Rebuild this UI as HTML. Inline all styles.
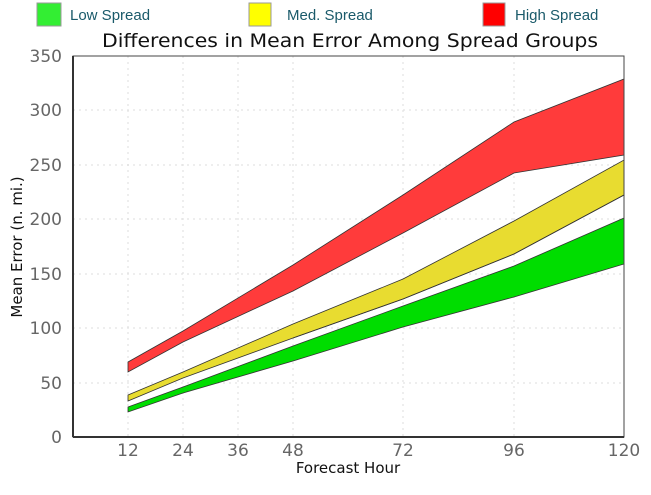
<!DOCTYPE html>
<html><head><meta charset="utf-8"><style>
body{margin:0;background:#fff;width:651px;height:490px;overflow:hidden}
</style></head><body>
<svg width="651" height="490" xmlns="http://www.w3.org/2000/svg" font-family="'DejaVu Sans','Liberation Sans',sans-serif">
<rect x="37" y="3" width="24" height="23" fill="#33ee33" stroke="#999"/>
<text x="70" y="20" font-size="15" fill="#1a5a6a" font-family="'Liberation Sans',sans-serif">Low Spread</text>
<rect x="249" y="3" width="22" height="23" fill="#ffff00" stroke="#999"/>
<text x="287" y="20" font-size="15" fill="#1a5a6a" font-family="'Liberation Sans',sans-serif">Med. Spread</text>
<rect x="483" y="3" width="22" height="23" fill="#ff0000" stroke="#999"/>
<text x="515" y="20" font-size="15" fill="#1a5a6a" font-family="'Liberation Sans',sans-serif">High Spread</text>
<text x="102" y="47" font-size="19" textLength="496" lengthAdjust="spacingAndGlyphs" fill="#111">Differences in Mean Error Among Spread Groups</text>
<g stroke="#ddd" stroke-dasharray="2,4" stroke-width="1">
<line x1="73" x2="624" y1="383" y2="383"/><line x1="73" x2="624" y1="328" y2="328"/><line x1="73" x2="624" y1="274" y2="274"/><line x1="73" x2="624" y1="219" y2="219"/><line x1="73" x2="624" y1="165" y2="165"/><line x1="73" x2="624" y1="110" y2="110"/>
<line y1="56" y2="437" x1="128" x2="128"/><line y1="56" y2="437" x1="183" x2="183"/><line y1="56" y2="437" x1="238" x2="238"/><line y1="56" y2="437" x1="293" x2="293"/><line y1="56" y2="437" x1="403" x2="403"/><line y1="56" y2="437" x1="514" x2="514"/>
</g>
<g stroke="#333" stroke-width="0.8">
<polygon fill="#ff3b3b" points="128,362 183,331 293,265 403,195 514,122 624,79 624,155 514,173 403,233 293,291 183,342 128,372"/>
<polygon fill="#e8dc30" points="128,395 183,372 293,324 403,279 514,221 624,160 624,195 514,254 403,299 293,338 183,378 128,401"/>
<polygon fill="#00dd00" points="128,407 183,387 293,346 403,306 514,266 624,218 624,264 514,297 403,327 293,361 183,393 128,412"/>
<polyline fill="none" points="293,338 403,299 514,254 624,195"/>
</g>
<rect x="73" y="56" width="551" height="381" fill="none" stroke="#444" stroke-width="1"/>
<line x1="73" y1="56" x2="73" y2="437" stroke="#333" stroke-width="2"/>
<line x1="73" y1="437" x2="624" y2="437" stroke="#333" stroke-width="2"/>
<g font-size="17" fill="#666" text-anchor="end">
<text x="62" y="443">0</text><text x="62" y="389">50</text><text x="62" y="334">100</text><text x="62" y="280">150</text><text x="62" y="225">200</text><text x="62" y="171">250</text><text x="62" y="116">300</text><text x="62" y="62">350</text>
</g>
<g font-size="17" fill="#666" text-anchor="middle">
<text x="128" y="456">12</text><text x="183" y="456">24</text><text x="238" y="456">36</text><text x="293" y="456">48</text><text x="403" y="456">72</text><text x="514" y="456">96</text><text x="624" y="456">120</text>
</g>
<text x="348" y="473" font-size="15" text-anchor="middle" fill="#111">Forecast Hour</text>
<text transform="translate(22,247) rotate(-90)" font-size="15" text-anchor="middle" fill="#111">Mean Error (n. mi.)</text>
</svg>
</body></html>
